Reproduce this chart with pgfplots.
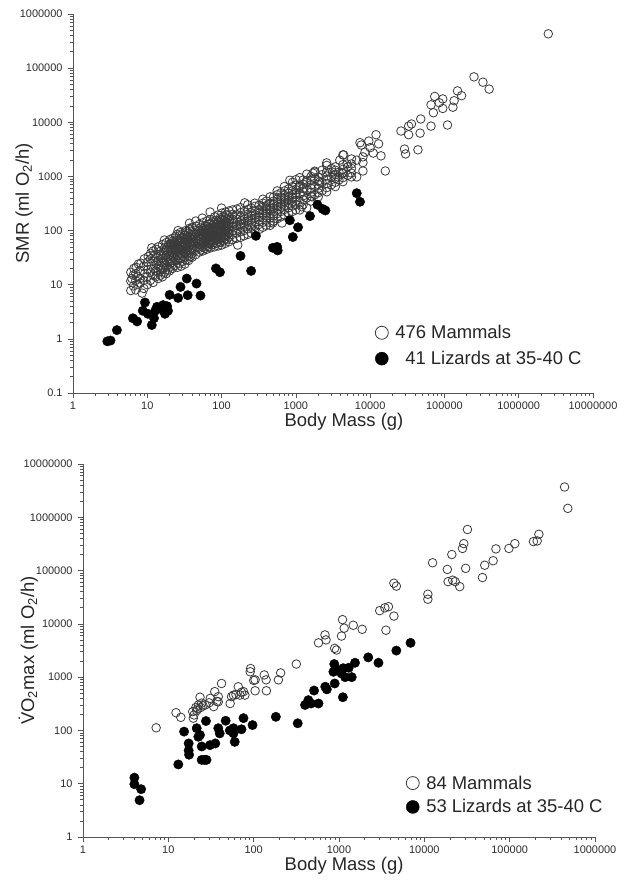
\documentclass[border=0pt]{standalone}
\usepackage{fontspec}
\setmainfont{Liberation Sans}
\usepackage{pgfplots}
\pgfplotsset{compat=1.18}
\definecolor{axgray}{HTML}{555555}
\definecolor{txgray}{HTML}{2E2E2E}
\definecolor{mkgray}{HTML}{3A3A3A}
\begin{document}
\begin{tikzpicture}
\path[use as bounding box] (0,0) rectangle (626bp,882bp);
% ---------------- top panel ----------------
\begin{axis}[scale only axis, xmode=log, ymode=log,
  axis x line*=bottom, axis y line*=left, tick align=outside,
  major tick length=5bp, minor tick length=3bp,
  every tick/.style={axgray, line width=0.7bp},
  axis line style={axgray, line width=0.9bp},
  tick label style={font=\fontsize{11}{12}\selectfont, text=txgray},
  yticklabel style={xshift=-2bp},
  label style={font=\fontsize{18.5}{22}\selectfont, text=black!85, inner sep=0pt},
  legend image code/.code={\draw[#1, mark size=6.5bp] plot coordinates {(7bp,0bp)};},
  legend style={draw=none, fill=none, font=\fontsize{18.5}{22}\selectfont, text=black!85,
      inner sep=0pt, row sep=11bp, column sep=7bp, nodes={inner sep=0pt}, cells={anchor=west},
      at={(0.581,0.179)}, anchor=north west},
  clip=false,
  at={(73bp,489bp)}, anchor=south west, width=520bp, height=379bp,
  xmin=1, xmax=1e7, ymin=0.1, ymax=1e6,
  xtick={1,10,100,1000,1e4,1e5,1e6,1e7},
  xticklabels={1,10,100,1000,10000,100000,1000000,10000000},
  ytick={0.1,1,10,100,1000,1e4,1e5,1e6},
  yticklabels={0.1,1,10,100,1000,10000,100000,1000000},
  minor xtick={2,3,4,5,6,7,8,9,20,30,40,50,60,70,80,90,200,300,400,500,600,700,800,900,2000,3000,4000,5000,6000,7000,8000,9000,2e4,3e4,4e4,5e4,6e4,7e4,8e4,9e4,2e5,3e5,4e5,5e5,6e5,7e5,8e5,9e5,2e6,3e6,4e6,5e6,6e6,7e6,8e6,9e6},
  minor ytick={0.2,0.3,0.4,0.5,0.6,0.7,0.8,0.9,2,3,4,5,6,7,8,9,20,30,40,50,60,70,80,90,200,300,400,500,600,700,800,900,2000,3000,4000,5000,6000,7000,8000,9000,2e4,3e4,4e4,5e4,6e4,7e4,8e4,9e4,2e5,3e5,4e5,5e5,6e5,7e5,8e5,9e5},
  xlabel={Body Mass (g)}, ylabel={SMR (ml O\textsubscript{2}/h)},
  xlabel style={at={(axis description cs:0.521,-0.053)}, anchor=north},
  ylabel style={at={(axis description cs:-0.094,0.5)}, anchor=center},
]
\addplot[only marks, mark=o, mark size=4.3bp, mark options={draw=mkgray, line width=0.8bp}] coordinates {
(6,7.8)(6,11.7)(6,17)(6.2,13)(6.5,9.5)(6.5,15)(6.6,20)(7,8)(7,12)(7.1,21)(7,16)(7.5,10)(7.5,14)(7.6,24)
(8.5,7)(8,10.7)(8,18)(8.2,25)(8,13)(9,8.5)(9,12)(9.2,16)(9,22)(9.1,30)
(10,10)(10,14)(10.2,19)(10,26)(10.3,33)(11.5,48)(11,12)(11,17)(11.2,22)(11,30)(11.1,38)
(12,11)(12,15)(12.2,20)(12,27)(12.3,35)(12,42)(13,14)(13,18)(13.2,24)(13,32)(13.1,45)
(14,13)(14,17)(14.3,22)(14,28)(14.2,36)(14,50)(15,15)(15,20)(15.3,26)(15,34)(15.2,42)
(16,14)(16,19)(16.2,25)(16,31)(16.4,40)(16,55)(17,17)(17,23)(17.3,29)(17,37)(17.2,48)(17,67)
(18,16)(18,21)(18.4,28)(18,35)(18.2,45)(18,60)(19,19)(19,26)(19.4,33)(19,42)(19.3,55)
(20,18)(20,24)(20.4,30)(20,36)(20.3,43)(20,50)(20.5,58)(20,68)
(21,22)(21,28)(21.4,34)(21,40)(21.3,47)(21,55)(21.5,63)
(22,20)(22,26)(22.5,33)(22,38)(22.4,45)(22,52)(22.6,60)(22,72)
(24,23)(24,30)(24.5,36)(24,42)(24.3,48)(24,56)(24.6,66)(24,78)
(25.5,21)(25,28)(25.5,35)(25,41)(25.7,47)(25,55)(25.4,62)(25,85)(26,100)
(27,25)(27,32)(27.5,38)(27,44)(27.4,51)(27,58)(27.6,68)(27,80)
(28.5,22)(28,30)(28.7,37)(28,45)(28.4,52)(28,60)(28.8,72)(28,92)
(30,27)(30,34)(30.6,41)(30,48)(30.5,55)(30,64)(30.8,75)(30,88)
(32,24)(32,32)(32.6,40)(32,46)(32.5,53)(32,60)(32.7,70)(32,82)(33,100)
(34,29)(34,37)(34.6,44)(34,50)(34.5,57)(34,66)(34.8,78)(34,95)
(36,28)(36,35)(36.7,43)(36,50)(36.5,58)(36,66)(36.8,76)(36,90)(37,110)(37,137)
(38,33)(38,40)(38.7,47)(38,55)(38.6,62)(38,72)(38.9,85)(38,105)
(40,32)(40,38)(40.8,46)(40,53)(40.6,61)(40,70)(41,80)(40,95)(40.5,115)
(45,36)(45,43)(45.8,50)(45,58)(45.6,66)(45,75)(46,86)(45,100)(45.5,120)(45,150)
(50,40)(50,47)(50.8,55)(50,62)(50.6,70)(50,78)(51,88)(50,100)(50.5,130)
(53,44)(53,52)(53.8,60)(53,68)(53.6,76)(53,85)(54,96)(53,112)(55,170)
(56,42)(56,50)(56.8,58)(56,66)(56.7,74)(56,82)(57,92)(56,108)(56.5,140)
(60,47)(60,55)(60.8,63)(60,71)(60.7,80)(60,90)(61,102)(60,120)
(63,45)(63,53)(63.8,62)(63,70)(63.7,78)(63,88)(64,100)(63,118)(63.5,150)
(67,50)(67,58)(67.8,66)(67,75)(67.7,85)(67,95)(68,110)(67,130)
(71,48)(70,57)(70.8,66)(70,76)(70.7,86)(70,97)(71,110)(70,135)(70.5,160)(70,220)
(75,55)(75,64)(75.8,74)(75,84)(75.7,95)(75,108)(76,125)(75,145)
(80,50)(80,60)(80.8,70)(80,80)(80.7,92)(80,104)(81,118)(80,140)(80.5,180)
(85,58)(85,68)(85.8,78)(85,90)(85.7,102)(85,116)(86,132)(85,155)
(90,52)(90,62)(90.8,74)(90,86)(90.7,98)(90,110)(91,125)(90,150)(90.5,195)
(95,60)(95,72)(95.8,84)(95,96)(95.7,108)(95,122)(96,140)(95,170)
(100,54)(100,66)(101,78)(100,92)(101,105)(100,118)(102,135)(100,160)(101,210)(100,260)
(106,64)(106,76)(107,90)(106,104)(107,118)(106,134)(108,155)(106,180)
(112,58)(112,70)(113,84)(112,98)(113,112)(112,126)(114,145)(112,175)(113,220)
(118,68)(118,82)(119,96)(118,110)(119,125)(118,142)(120,165)(118,195)
(125,62)(125,76)(126,90)(125,104)(126,120)(125,135)(127,155)(125,190)(126,230)
(140,68)(140,85)(142,100)(140,118)(143,135)(140,160)(141,200)(140,240)
(160,72)(160,90)(162,108)(160,125)(163,142)(160,165)(161,195)(160,250)(165,54)
(180,75)(180,95)(182,115)(180,132)(183,152)(180,178)(181,215)(180,265)
(200,80)(200,100)(202,120)(200,140)(203,160)(200,185)(201,225)(205,325)
(225,85)(225,108)(227,128)(225,150)(228,172)(225,200)(226,245)(225,300)
(250,90)(250,115)(252,136)(250,160)(253,185)(250,215)(251,260)
(280,95)(280,120)(282,145)(280,170)(283,195)(280,230)(281,280)(280,320)
(320,105)(320,130)(322,155)(320,180)(323,210)(320,245)(321,295)
(360,115)(360,142)(362,170)(360,200)(363,230)(360,270)(361,320)(360,380)
(400,125)(400,155)(402,185)(400,215)(403,250)(400,290)(401,350)
(450,125)(450,140)(452,170)(450,205)(453,240)(450,275)(451,320)(450,420)(490,138)
(500,150)(500,185)(503,225)(500,260)(504,300)(500,350)(502,420)
(560,165)(560,205)(563,245)(560,285)(564,330)(560,380)(562,460)(560,540)
(630,180)(630,225)(634,270)(630,315)(635,360)(630,420)(632,500)(650,138)
(700,195)(700,245)(704,290)(700,340)(705,390)(700,450)(702,540)(700,650)
(800,210)(800,265)(805,320)(800,370)(806,420)(800,490)(803,590)(830,850)
(900,225)(900,285)(905,340)(900,400)(906,460)(900,540)(903,650)(900,780)
(1000,240)(1000,300)(1006,360)(1000,420)(1007,490)(1000,570)(1003,690)(1000,870)
(1130,240)(1130,340)(1135,480)(1130,660)(1130,950)
(1250,300)(1250,370)(1255,440)(1250,520)(1256,600)(1250,720)(1253,860)
(1400,262)(1400,400)(1405,560)(1400,780)(1400,1100)
(1600,350)(1600,430)(1605,510)(1600,600)(1606,700)(1600,840)(1603,1000)(1700,1150)
(1800,460)(1800,650)(1805,900)(1800,1250)
(2000,420)(2000,500)(2010,600)(2000,710)(2010,830)(2000,980)
(2250,540)(2250,770)(2260,1080)(2250,1300)
(2600,520)(2600,620)(2610,740)(2600,870)(2610,1020)(2600,1200)(2600,1780)
(3000,700)(3000,980)(3010,1400)
(3400,650)(3400,780)(3410,920)(3400,1080)(3410,1300)(3400,1500)
(3800,860)(3800,1200)
(4300,800)(4300,950)(4310,1130)(4300,1350)(4310,1650)(4300,2500)
(5000,1050)(5000,1500)
(5600,980)(5600,1150)(5610,1400)(5600,1700)(5610,2100)
(4400,2500)(4900,1700)(3900,2000)(6600,980)(3100,1200)(4200,1150)(3700,980)
(7600,3800)(8500,2800)(10000,3400)(11000,2700)(8000,2300)(6600,2000)(8000,1800)(8000,1260)
(7300,4200)(9600,4500)(12000,5900)(13000,4000)(14000,2400)(16000,1260)(2600,1600)
(1800,1200)(2100,790)(1100,620)(1400,850)(1650,420)(1200,275)
(26000,6900)(29000,3200)(30000,2600)(33000,5900)(33000,8500)(36000,9300)(44000,3100)
(47000,6300)(48000,11500)(66000,8500)(66000,21000)(71000,15000)(74000,30000)(85000,23000)
(95000,27000)(95000,18000)(110000,8900)(130000,19000)(135000,25000)(150000,38000)
(170000,31000)(250000,69000)(330000,55000)(400000,41000)(2500000,430000)
};
\addlegendentry{476 Mammals}
\addplot[only marks, mark=*, mark size=4.7bp, mark options={draw=black, fill=black}] coordinates {
(2.9,0.9)(3.2,0.93)(3.9,1.45)(6.4,2.4)(7.3,2.1)(8.7,3.3)(9.3,4.7)(10.2,2.9)(11.5,1.8)
(12.3,2.4)(13.5,3.9)(12.8,3.3)(15.7,3.5)(16.3,4.2)(17.3,2.9)(18.5,4.0)(19,3.3)(20,6.5)
(26,5.7)(28,9.1)(34,13)(35,6.4)(46,10.5)(52,6.3)(84,20)(95,17)(180,34)(250,18)(290,80)
(490,48)(560,50)(570,43)(830,155)(910,76)(1070,115)(1550,185)(1950,300)(2300,250)
(2500,235)(6600,490)(7300,340)
};
\addlegendentry{\hspace{10bp}41 Lizards at 35-40 C}
\end{axis}
% ---------------- bottom panel ----------------
\begin{axis}[scale only axis, xmode=log, ymode=log,
  axis x line*=bottom, axis y line*=left, tick align=outside,
  major tick length=5bp, minor tick length=3bp,
  every tick/.style={axgray, line width=0.7bp},
  axis line style={axgray, line width=0.9bp},
  tick label style={font=\fontsize{11}{12}\selectfont, text=txgray},
  yticklabel style={xshift=-2bp},
  label style={font=\fontsize{18.5}{22}\selectfont, text=black!85, inner sep=0pt},
  legend image code/.code={\draw[#1, mark size=6.5bp] plot coordinates {(7bp,0bp)};},
  legend style={draw=none, fill=none, font=\fontsize{18.5}{22}\selectfont, text=black!85,
      inner sep=0pt, row sep=9bp, column sep=7bp, nodes={inner sep=0pt}, cells={anchor=west},
      at={(0.631,0.165)}, anchor=north west},
  clip=false,
  at={(83bp,45bp)}, anchor=south west, width=512bp, height=373bp,
  xmin=1, xmax=1e6, ymin=1, ymax=1e7,
  xtick={1,10,100,1000,1e4,1e5,1e6},
  xticklabels={1,10,100,1000,10000,100000,1000000},
  ytick={1,10,100,1000,1e4,1e5,1e6,1e7},
  yticklabels={1,10,100,1000,10000,100000,1000000,10000000},
  minor xtick={2,3,4,5,6,7,8,9,20,30,40,50,60,70,80,90,200,300,400,500,600,700,800,900,2000,3000,4000,5000,6000,7000,8000,9000,2e4,3e4,4e4,5e4,6e4,7e4,8e4,9e4,2e5,3e5,4e5,5e5,6e5,7e5,8e5,9e5},
  minor ytick={2,3,4,5,6,7,8,9,20,30,40,50,60,70,80,90,200,300,400,500,600,700,800,900,2000,3000,4000,5000,6000,7000,8000,9000,2e4,3e4,4e4,5e4,6e4,7e4,8e4,9e4,2e5,3e5,4e5,5e5,6e5,7e5,8e5,9e5,2e6,3e6,4e6,5e6,6e6,7e6,8e6,9e6},
  xlabel={Body Mass (g)}, ylabel={\.{V}O\textsubscript{2}max (ml O\textsubscript{2}/h)},
  xlabel style={at={(axis description cs:0.51,-0.054)}, anchor=north},
  ylabel style={at={(axis description cs:-0.107,0.5)}, anchor=center},
]
\addplot[only marks, mark=o, mark size=4.3bp, mark options={draw=mkgray, line width=0.8bp}] coordinates {
(7.2,112)(12.3,215)(14,176)(19.3,225)(19.6,170)(21,270)(22.5,300)(23.5,420)(24.6,325)
(27,300)(31,400)(34,280)(35,535)(38.5,430)(42,760)(38.5,345)(53,320)(55,430)(66,660)
(69,460)(76,535)(79,460)(92,1450)(91,1260)(104,890)(104,555)(133,1100)(140,890)(141,555)
(195,890)(207,1200)(316,1760)(575,4400)(685,6200)(705,5000)(890,3470)(935,3230)(1070,5900)
(1150,8300)(1470,9400)(1870,7900)(3550,7600)(1100,12000)(3000,17700)(3450,20000)(3800,21000)
(4400,14000)(4400,58000)(4700,51000)(11000,36000)(11000,29000)(12500,140000)(18600,105000)
(19000,62000)(21500,66000)(23000,62000)(26000,50000)(21000,200000)(28000,260000)(29000,320000)
(30500,110000)(32000,590000)(48000,74000)(51000,126000)(64000,153000)(69000,255000)
(98000,260000)(115000,320000)(190000,350000)(210000,360000)(220000,480000)(440000,3700000)
(480000,1470000)(20,195)(21.5,235)(22,255)(24,270)(25.5,290)(30,330)(37,350)(58,460)(62,470)
(72,520)(100,870)
};
\addlegendentry{84 Mammals}
\addplot[only marks, mark=*, mark size=4.7bp, mark options={draw=black, fill=black}] coordinates {
(4.0,13)(4.0,9.8)(4.8,7.9)(4.6,4.9)(13.1,23)(15.3,95)(17.3,57)(17.3,42)(17.5,35)
(21.5,110)(22.5,76)(23.5,82)(24.6,50)(24.6,28)(26.5,28)(28,28)(27.6,150)(30.8,53)(35.5,57)
(38.5,110)(40,88)(47,152)(52.6,100)(58,88)(60,61)(72,105)(76,170)(97,126)(58,110)
(182,180)(328,136)(400,300)(437,370)(470,320)(575,320)(510,560)(690,660)(720,590)(890,760)
(880,1760)(860,1260)(960,1350)(1070,1170)(1120,1470)(1180,1000)(1410,1000)(1110,420)
(1540,1860)(1300,1500)(2200,2350)(2900,1860)(4700,3150)(6900,4400)
};
\addlegendentry{53 Lizards at 35-40 C}
\end{axis}
\end{tikzpicture}
\end{document}
